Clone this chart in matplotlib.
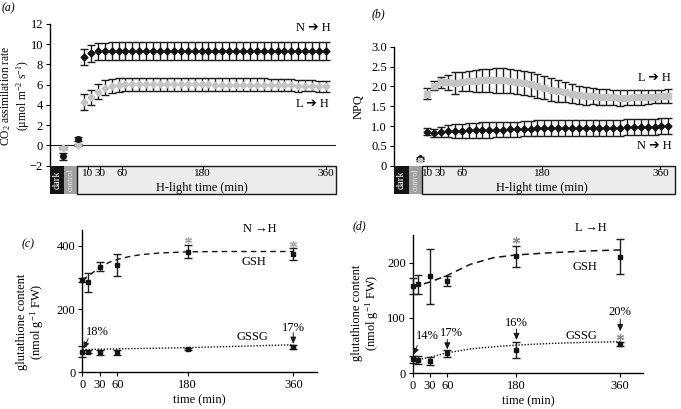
"""
plot.py — CO2 assimilation / NPQ time courses and glutathione contents
after transfer to high light (four panels a–d).

Output: out.png
"""

import matplotlib
matplotlib.use("Agg")
import matplotlib.pyplot as plt
import matplotlib.transforms as mtrans
from matplotlib.patches import Rectangle

plt.rcParams["font.family"] = ["Liberation Serif", "DejaVu Sans"]
plt.rcParams["mathtext.fontset"] = "custom"
plt.rcParams["mathtext.rm"] = "Liberation Serif"
plt.rcParams["mathtext.it"] = "Liberation Serif:italic"
plt.rcParams["font.size"] = 9

W, H = 681, 409
FS = 9

# ── Data: panels (a) and (b), every 10 min of H-light ─────────────────────────
LIGHT_TIMES = list(range(10, 370, 10))

CO2_NH = [8.75, 9.1, 9.3, 9.3, 9.35, 9.35, 9.3, 9.35, 9.35, 9.35, 9.35, 9.35,
          9.35, 9.3, 9.35, 9.35, 9.35, 9.35, 9.35, 9.35, 9.35, 9.35, 9.35, 9.35,
          9.35, 9.35, 9.35, 9.35, 9.35, 9.35, 9.35, 9.35, 9.35, 9.35, 9.35, 9.35]
CO2_NH_ERR = [0.8, 0.85, 0.85, 0.85, 0.9, 0.9, 0.9, 0.9, 0.9, 0.9, 0.9, 0.9,
              0.9, 0.9, 0.9, 0.9, 0.9, 0.9, 0.9, 0.9, 0.9, 0.9, 0.9, 0.9,
              0.9, 0.9, 0.9, 0.9, 0.9, 0.9, 0.9, 0.9, 0.9, 0.9, 0.9, 0.9]
CO2_LH = [4.3, 4.75, 5.3, 5.7, 5.9, 6.0, 6.05, 6.05, 6.05, 6.05, 6.05, 6.05,
          6.05, 6.05, 6.05, 6.05, 6.05, 6.05, 6.05, 6.0, 6.0, 6.0, 6.0, 6.0,
          6.0, 6.0, 6.0, 6.0, 5.95, 5.95, 5.95, 5.9, 5.9, 5.9, 5.85, 5.85]
CO2_LH_ERR = [0.75, 0.75, 0.75, 0.75, 0.7, 0.7, 0.65, 0.65, 0.65, 0.65, 0.65, 0.65,
              0.65, 0.65, 0.65, 0.65, 0.65, 0.65, 0.65, 0.65, 0.65, 0.65, 0.65, 0.65,
              0.65, 0.65, 0.65, 0.6, 0.6, 0.6, 0.6, 0.6, 0.55, 0.55, 0.55, 0.55]
# dark and control measurements (before H-light)
CO2_PRE_X = [-20, 1]
CO2_PRE_NH = [-1.07, 0.6]
CO2_PRE_NH_ERR = [0.33, 0.2]
CO2_PRE_LH = [-0.25, 0.0]
CO2_PRE_LH_ERR = [0.12, 0.1]

NPQ_NH = [0.86, 0.83, 0.85, 0.87, 0.88, 0.88, 0.89, 0.89, 0.9, 0.9, 0.91, 0.91,
          0.92, 0.92, 0.93, 0.93, 0.94, 0.94, 0.95, 0.95, 0.95, 0.95, 0.95, 0.96,
          0.96, 0.96, 0.96, 0.96, 0.96, 0.97, 0.97, 0.97, 0.98, 0.98, 0.99, 1.0]
NPQ_NH_ERR = [0.08, 0.1, 0.13, 0.15, 0.17, 0.18, 0.18, 0.18, 0.19, 0.19, 0.19, 0.19,
              0.19, 0.19, 0.19, 0.19, 0.2, 0.2, 0.2, 0.2, 0.2, 0.2, 0.2, 0.2,
              0.2, 0.2, 0.2, 0.2, 0.2, 0.2, 0.2, 0.2, 0.2, 0.2, 0.2, 0.2]
NPQ_LH = [1.82, 2.02, 2.1, 2.1, 2.08, 2.12, 2.13, 2.13, 2.15, 2.15, 2.15, 2.15,
          2.13, 2.12, 2.08, 2.05, 2.0, 1.97, 1.92, 1.88, 1.85, 1.82, 1.78, 1.76,
          1.75, 1.74, 1.73, 1.72, 1.71, 1.71, 1.72, 1.72, 1.73, 1.74, 1.75, 1.76]
NPQ_LH_ERR = [0.15, 0.12, 0.14, 0.18, 0.27, 0.23, 0.25, 0.28, 0.3, 0.3, 0.32, 0.32,
              0.3, 0.3, 0.3, 0.3, 0.3, 0.28, 0.28, 0.27, 0.25, 0.23, 0.22, 0.22,
              0.2, 0.2, 0.2, 0.2, 0.2, 0.19, 0.18, 0.18, 0.17, 0.17, 0.17, 0.17]
NPQ_PRE_X = [0]
NPQ_PRE_NH = [0.19]
NPQ_PRE_LH = [0.14]

BOX_TICKS = [10, 30, 60, 180, 360]

# ── Data: panels (c) and (d), glutathione ─────────────────────────────────────
GLU_TIMES = [0, 10, 30, 60, 180, 360]
GLU_TICKS = [0, 30, 60, 180, 360]

GSH_N = [292, 285, 334, 340, 382, 374]
GSH_N_ERR = [6, 30, 14, 34, 22, 19]
GSSG_N = [65, 65, 63, 63, 75, 81]
GSSG_N_ERR = [18, 4, 9, 8, 3, 6]
FIT_N_T = [0, 10, 20, 30, 45, 60, 80, 100, 130, 180, 240, 300, 360]
FIT_GSH_N = [292, 305, 318, 332, 347, 357, 366, 372, 377, 381, 382, 382, 382]
FIT_GSSG_N_T = [0, 60, 120, 180, 240, 300, 360]
FIT_GSSG_N = [72, 74, 76, 78, 81, 84, 87]
STAR_N_T = [180, 360]
STAR_N_Y = [419, 406]

GSH_L = [158, 161, 175, 167, 212, 211]
GSH_L_ERR = [14, 17, 50, 9, 19, 31]
GSSG_L = [25, 24, 22, 36, 42, 53]
GSSG_L_ERR = [6, 8, 7, 6, 15, 4]
FIT_L_T = [0, 10, 20, 30, 60, 100, 140, 180, 240, 300, 360]
FIT_GSH_L = [158, 160, 162, 165, 177, 197, 209, 214, 218, 221, 223]
FIT_GSSG_L_T = [0, 10, 30, 60, 100, 140, 180, 240, 300, 360]
FIT_GSSG_L = [24, 25, 29, 37, 44, 48, 51, 54, 56, 57]
STAR_L_T = [180, 360]
STAR_L_Y = [241, 66]

# ── Styling ───────────────────────────────────────────────────────────────────
BLACK = "#141414"
GREY = "#c4c4c4"
ERR = "#1e1e1e"


def px_axes(fig, left, top, right, bottom):
    """Add an axes given its pixel box (origin top-left)."""
    return fig.add_axes([left / W, 1 - bottom / H, (right - left) / W, (bottom - top) / H])


def fig_text(fig, x, y, s, **kw):
    fig.text(x / W, 1 - y / H, s, **kw)


def series(ax, x, y, err, color, marker, ms=3.8):
    ax.errorbar(x, y, yerr=err, fmt=marker, ms=ms, mfc=color, mec=color,
                ecolor=ERR, elinewidth=1.0, capsize=3, capthick=1.0,
                clip_on=False, zorder=3)


def left_only(ax):
    for side in ("top", "right", "bottom"):
        ax.spines[side].set_visible(False)
    ax.spines["left"].set_linewidth(1.0)
    ax.tick_params(axis="y", direction="out", length=3, width=0.8, labelsize=FS, pad=2)
    ax.set_xticks([])
    ax.patch.set_alpha(0)


def time_box(fig, left, right, xlim, dark_end, ctrl_end, label_x, nudges):
    """The dark / control / H-light strip under panels (a) and (b)."""
    axb = px_axes(fig, left, 165.7, right, 194)
    axb.set_xlim(xlim)
    axb.set_ylim(0, 1)
    axb.axis("off")
    axb.add_patch(Rectangle((xlim[0], 0), dark_end - xlim[0], 1,
                            facecolor="#151515", edgecolor="none", clip_on=False))
    axb.add_patch(Rectangle((dark_end, 0), ctrl_end - dark_end, 1,
                            facecolor="#a0a0a0", edgecolor="none", clip_on=False))
    axb.add_patch(Rectangle((ctrl_end, 0), xlim[1] - ctrl_end, 1, facecolor="#ececec",
                            edgecolor="#1a1a1a", lw=1.0, clip_on=False))
    axb.text((xlim[0] + dark_end) / 2, 0.5, "dark", rotation=90, color="white",
             ha="center", va="center", fontsize=7.5)
    axb.text((dark_end + ctrl_end) / 2, 0.5, "control", rotation=90, color="#e6e6e6",
             ha="center", va="center", fontsize=5.8)
    for t, dx in zip(BOX_TICKS, nudges):
        tr = mtrans.offset_copy(axb.transData, fig=fig, x=dx, y=0, units="dots")
        axb.plot([t, t], [1, 0.9], color="#1a1a1a", lw=0.8, clip_on=False, transform=tr)
        axb.text(t, 0.72, str(t), ha="center", va="center", fontsize=8, transform=tr)
    axb.text(label_x, 0.22, "H-light time (min)", ha="center", va="center", fontsize=FS)


def glut_axes(ax, ylim, yticks):
    for side in ("top", "right"):
        ax.spines[side].set_visible(False)
    for side in ("left", "bottom"):
        ax.spines[side].set_linewidth(1.0)
    ax.set_xlim(0, 400)
    ax.set_ylim(*ylim)
    ax.set_xticks(GLU_TICKS)
    ax.set_yticks(yticks)
    ax.tick_params(direction="out", length=3, width=0.8, labelsize=FS, pad=2)
    ax.patch.set_alpha(0)


def note(ax, s, text_xy, start, end):
    ax.text(*text_xy, s, ha="center", va="center", fontsize=FS)
    ax.annotate("", xy=end, xytext=start,
                arrowprops=dict(arrowstyle="-|>,head_length=0.5,head_width=0.22",
                                lw=0.7, color="#1a1a1a", mutation_scale=8,
                                shrinkA=0, shrinkB=0))


fig = plt.figure(figsize=(W / 100, H / 100), dpi=100, facecolor="white")
arrow = "\u2794"

# ── (a) CO2 assimilation ──────────────────────────────────────────────────────
xlim_a = (-39.2, 374.5)
ax = px_axes(fig, 50, 24, 336, 165.7)
ax.set_xlim(xlim_a)
ax.set_ylim(-2, 12)
ax.set_yticks(range(-2, 13, 2))
left_only(ax)
ax.axhline(0, color="#222222", lw=0.8, zorder=1)
series(ax, LIGHT_TIMES, CO2_NH, CO2_NH_ERR, BLACK, "D", 3.5)
series(ax, LIGHT_TIMES, CO2_LH, CO2_LH_ERR, GREY, "D", 3.5)
series(ax, CO2_PRE_X, CO2_PRE_LH, CO2_PRE_LH_ERR, GREY, "D", 3.5)
series(ax, CO2_PRE_X, CO2_PRE_NH, CO2_PRE_NH_ERR, BLACK, "o", 4)
ax.text(341, 11.6, f"N {arrow} H", ha="center", va="center", fontsize=FS)
ax.text(341, 4.1, f"L {arrow} H", ha="center", va="center", fontsize=FS)
time_box(fig, 50, 336, xlim_a, -19, 0, 181, [4, 2, 3, 1, 0])
fig_text(fig, 8, 8, "(a)", style="italic", ha="center", va="center", fontsize=8.5)
fig_text(fig, 15, 96, "CO$_2$ assimilation rate\n(\u00b5mol m$^{-2}$ s$^{-1}$)",
         rotation=90, ha="center", va="center", multialignment="center", fontsize=8.3,
         linespacing=1.05)

# ── (b) NPQ ───────────────────────────────────────────────────────────────────
xlim_b = (-38.4, 369.7)
ax = px_axes(fig, 394, 46.7, 675, 165.7)
ax.set_xlim(xlim_b)
ax.set_ylim(0, 3)
ax.set_yticks([0, 0.5, 1, 1.5, 2, 2.5, 3])
ax.set_yticklabels(["0", "0.5", "1.0", "1.5", "2.0", "2.5", "3.0"])
left_only(ax)
series(ax, LIGHT_TIMES, NPQ_LH, NPQ_LH_ERR, GREY, "s", 3.8)
series(ax, LIGHT_TIMES, NPQ_NH, NPQ_NH_ERR, BLACK, "D", 3.5)
series(ax, NPQ_PRE_X, NPQ_PRE_NH, [0.03], BLACK, "D", 3.2)
series(ax, NPQ_PRE_X, NPQ_PRE_LH, [0.02], GREY, "s", 3.2)
ax.text(340, 2.2, f"L {arrow} H", ha="center", va="center", fontsize=FS)
ax.text(340, 0.5, f"N {arrow} H", ha="center", va="center", fontsize=FS)
time_box(fig, 394, 675, xlim_b, -16.6, 2.3, 176, [0, -1, 0, -2, -8])
fig_text(fig, 378, 14, "(b)", style="italic", ha="center", va="center", fontsize=8.5)
fig_text(fig, 359, 107, "NPQ", rotation=90, ha="center", va="center", fontsize=FS)

# ── (c) glutathione, N -> H ───────────────────────────────────────────────────
ax = px_axes(fig, 82.3, 230, 316.7, 372.3)
glut_axes(ax, (0, 450), [0, 200, 400])
ax.plot(FIT_N_T, FIT_GSH_N, color=BLACK, lw=1.0, ls=(0, (4, 3)))
ax.plot(FIT_GSSG_N_T, FIT_GSSG_N, color=BLACK, lw=1.0, ls=(0, (1, 1.2)))
series(ax, GLU_TIMES, GSH_N, GSH_N_ERR, BLACK, "s", 2.6)
series(ax, GLU_TIMES, GSSG_N, GSSG_N_ERR, BLACK, "s", 2.6)
ax.plot(STAR_N_T, STAR_N_Y, ls="none", marker=(6, 2, 0), ms=5, mec="#a8a8a8",
        mew=0.9, clip_on=False)
ax.text(302, 454, "N \u2192H", ha="center", va="center", fontsize=FS)
ax.text(292, 349, "GSH", ha="center", va="center", fontsize=FS)
ax.text(290, 113, "GSSG", ha="center", va="center", fontsize=FS)
note(ax, "18%", (26, 126), (10, 106), (2, 74))
note(ax, "17%", (361, 141), (360, 125), (360, 90))
ax.set_xlabel("time (min)", fontsize=FS, labelpad=2)
fig_text(fig, 28, 244, "(c)", style="italic", ha="center", va="center", fontsize=8.5)
fig_text(fig, 31, 322, "glutathione content\n(nmol g$^{-1}$ FW)", rotation=90,
         ha="center", va="center", multialignment="center", fontsize=FS, linespacing=1.1)

# ── (d) glutathione, L -> H ───────────────────────────────────────────────────
ax = px_axes(fig, 412.7, 235, 643.3, 373.3)
glut_axes(ax, (0, 250), [0, 100, 200])
ax.plot(FIT_L_T, FIT_GSH_L, color=BLACK, lw=1.1, ls=(0, (4.5, 3)))
ax.plot(FIT_GSSG_L_T, FIT_GSSG_L, color=BLACK, lw=1.0, ls=(0, (1, 1.2)))
series(ax, GLU_TIMES, GSH_L, GSH_L_ERR, BLACK, "s", 2.6)
series(ax, GLU_TIMES, GSSG_L, GSSG_L_ERR, BLACK, "s", 2.6)
ax.plot(STAR_L_T, STAR_L_Y, ls="none", marker=(6, 2, 0), ms=5, mec="#8a8a8a",
        mew=0.9, clip_on=False)
ax.text(309, 263, "L \u2192H", ha="center", va="center", fontsize=FS)
ax.text(299, 193, "GSH", ha="center", va="center", fontsize=FS)
ax.text(293, 67, "GSSG", ha="center", va="center", fontsize=FS)
note(ax, "14%", (26, 67), (8, 50), (1, 33))
note(ax, "17%", (67, 72), (60, 61), (60, 43))
note(ax, "16%", (180, 91), (180, 80), (180, 60))
note(ax, "20%", (360, 111), (360, 98), (360, 76))
ax.set_xlabel("time (min)", fontsize=FS, labelpad=2)
fig_text(fig, 359, 226, "(d)", style="italic", ha="center", va="center", fontsize=8.5)
fig_text(fig, 366, 313, "glutathione content\n(nmol g$^{-1}$ FW)", rotation=90,
         ha="center", va="center", multialignment="center", fontsize=FS, linespacing=1.1)

fig.savefig("out.png", dpi=100, facecolor="white")
plt.close(fig)
